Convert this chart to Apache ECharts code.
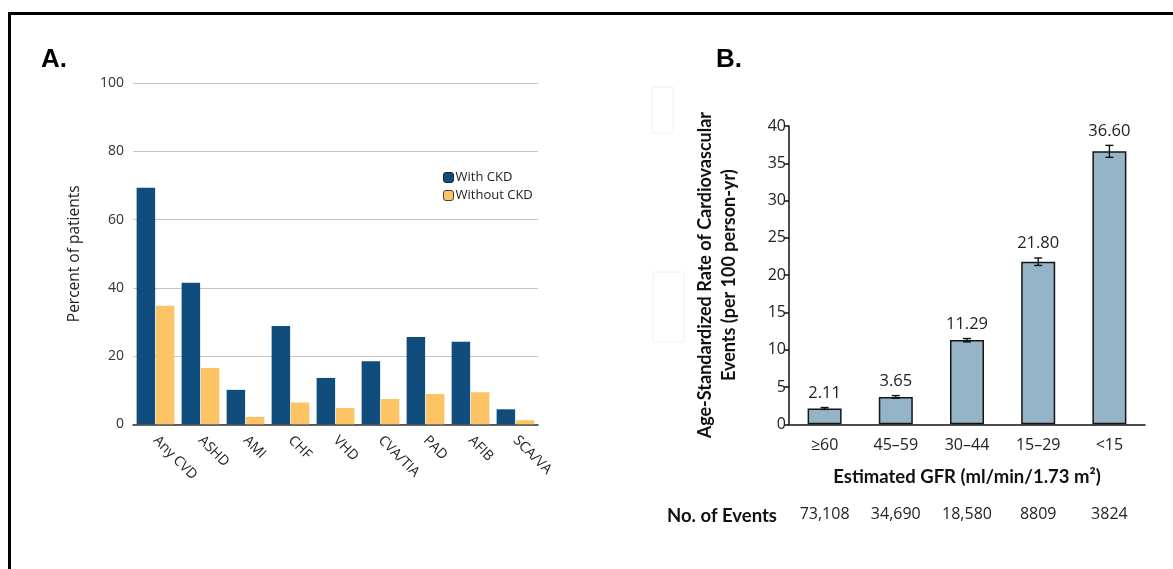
<!DOCTYPE html>
<html>
<head>
<meta charset="utf-8">
<script src="https://cdn.jsdelivr.net/npm/echarts@6/dist/echarts.min.js"></script>
<style>
html,body{margin:0;padding:0;background:#fff;}
#chart{width:1173px;height:569px;}
</style>
</head>
<body>
<div id="chart"></div>
<script>
// Panel A data
var cvdCategories = ['Any CVD','ASHD','AMI','CHF','VHD','CVA/TIA','PAD','AFIB','SCA/VA'];
var withCKD = [69.4, 41.5, 10.1, 28.8, 13.6, 18.5, 25.6, 24.2, 4.4];
var withoutCKD = [34.8, 16.5, 2.2, 6.4, 4.8, 7.4, 8.9, 9.4, 1.2];

// Panel B data
var gfrCategories = ['\u226560', '45\u201359', '30\u201344', '15\u201329', '<15'];
var eventRates = [2.11, 3.65, 11.29, 21.80, 36.60];
var errLow = [2.00, 3.50, 11.05, 21.30, 35.80];
var errHigh = [2.25, 3.85, 11.50, 22.30, 37.40];
var eventCounts = ['73,108', '34,690', '18,580', '8809', '3824'];

var chart = echarts.init(document.getElementById('chart'), null, {renderer: 'canvas'});

var errData = eventRates.map(function (v, i) { return [i, errLow[i], errHigh[i], v]; });

var option = {
  backgroundColor: '#ffffff',
  animation: false,
  title: [
    {text: 'A.', left: 36, top: 42, textStyle: {fontFamily: 'Liberation Sans', fontWeight: 'bold', fontSize: 26, color: '#000'}},
    {text: 'B.', left: 711, top: 42, textStyle: {fontFamily: 'Liberation Sans', fontWeight: 'bold', fontSize: 26, color: '#000'}}
  ],
  legend: {
    orient: 'vertical',
    left: 438,
    top: 166,
    itemWidth: 10,
    itemHeight: 10,
    itemGap: 5,
    textStyle: {fontFamily: 'Open Sans', fontSize: 13, color: '#222', padding: [0, 0, 0, -3]},
    data: [
      {name: 'With CKD', itemStyle: {borderColor: '#222', borderWidth: 1}},
      {name: 'Without CKD', itemStyle: {borderColor: '#444', borderWidth: 1}}
    ]
  },
  grid: [
    {left: 133, top: 83.3, width: 405, height: 341},
    {left: 789, top: 126, width: 356, height: 298.3}
  ],
  xAxis: [
    {
      type: 'category', gridIndex: 0, data: cvdCategories,
      axisLine: {lineStyle: {color: '#333', width: 1.5}},
      axisTick: {show: false},
      axisLabel: {rotate: -45, margin: 14, fontFamily: 'Open Sans', fontSize: 14, color: '#222', interval: 0}
    },
    {
      type: 'category', gridIndex: 1, data: gfrCategories,
      axisLine: {lineStyle: {color: '#111', width: 1.5}},
      axisTick: {alignWithLabel: true, length: 6, lineStyle: {color: '#111', width: 1.5}},
      axisLabel: {margin: 13, fontFamily: 'Open Sans', fontSize: 16, color: '#222'},
      name: 'Estimated GFR (ml/min/1.73 m\u00b2)',
      nameLocation: 'middle', nameGap: 43,
      nameTextStyle: {fontFamily: 'Lato', fontWeight: 'bold', fontSize: 18.5, color: '#111'}
    },
    {
      type: 'category', gridIndex: 1, data: eventCounts, position: 'bottom', offset: 92,
      axisLine: {show: false}, axisTick: {show: false},
      axisLabel: {margin: -10, fontFamily: 'Open Sans', fontSize: 16, color: '#222'},
      name: 'No. of Events', nameLocation: 'start', nameGap: 12,
      nameTextStyle: {fontFamily: 'Lato', fontWeight: 'bold', fontSize: 18.5, color: '#111'}
    }
  ],
  yAxis: [
    {
      type: 'value', gridIndex: 0, min: 0, max: 100, interval: 20,
      axisLine: {show: false}, axisTick: {show: false},
      splitLine: {lineStyle: {color: '#c4c4c4', width: 1.2}},
      axisLabel: {margin: 9, fontFamily: 'Open Sans', fontSize: 14, color: '#333'},
      name: 'Percent of patients', nameLocation: 'middle', nameGap: 50,
      nameTextStyle: {fontFamily: 'Open Sans', fontSize: 15.5, color: '#222'}
    },
    {
      type: 'value', gridIndex: 1, min: 0, max: 40, interval: 5,
      axisLine: {show: true, lineStyle: {color: '#111', width: 1.5}},
      axisTick: {show: true, length: 5, lineStyle: {color: '#111', width: 1.5}},
      splitLine: {show: false},
      axisLabel: {margin: 3, fontFamily: 'Open Sans', fontSize: 16, color: '#222'},
      name: 'Age-Standardized Rate of Cardiovascular\nEvents (per 100 person-yr)',
      nameLocation: 'middle', nameGap: 48,
      nameTextStyle: {fontFamily: 'Lato', fontWeight: 'bold', fontSize: 18, color: '#111', lineHeight: 24}
    }
  ],
  series: [
    {
      name: 'With CKD', type: 'bar', xAxisIndex: 0, yAxisIndex: 0, data: withCKD,
      barWidth: 18.5, barGap: '4%',
      itemStyle: {color: '#114d7c'}
    },
    {
      name: 'Without CKD', type: 'bar', xAxisIndex: 0, yAxisIndex: 0, data: withoutCKD,
      barWidth: 18.5, barGap: '4%',
      itemStyle: {color: '#fcc465'}
    },
    {
      name: 'Rate', type: 'bar', xAxisIndex: 1, yAxisIndex: 1, data: eventRates,
      barWidth: 34,
      itemStyle: {color: '#96b4c8', borderColor: '#151515', borderWidth: 1.5}
    },
    {
      name: 'Err', type: 'custom', xAxisIndex: 1, yAxisIndex: 1, data: errData,
      z: 5,
      renderItem: function (params, api) {
        var x = api.value(0);
        var lo = api.coord([x, api.value(1)]);
        var hi = api.coord([x, api.value(2)]);
        var hw = 4;
        var val = api.value(3);
        return {
          type: 'group',
          children: [
            {type: 'line', shape: {x1: lo[0], y1: lo[1], x2: hi[0], y2: hi[1]}, style: {stroke: '#111', lineWidth: 1.4}},
            {type: 'line', shape: {x1: hi[0] - hw, y1: hi[1], x2: hi[0] + hw, y2: hi[1]}, style: {stroke: '#111', lineWidth: 1.4}},
            {type: 'line', shape: {x1: lo[0] - hw, y1: lo[1], x2: lo[0] + hw, y2: lo[1]}, style: {stroke: '#111', lineWidth: 1.4}},
            {type: 'text', x: hi[0], y: hi[1] - 6, style: {text: val.toFixed(2), textAlign: 'center', textVerticalAlign: 'bottom', fontFamily: 'Open Sans', fontSize: 16.5, fill: '#222'}}
          ]
        };
      }
    }
  ],
  graphic: [
    {type: 'line', shape: {x1: 8, y1: 13.5, x2: 1173, y2: 13.5}, style: {stroke: '#000', lineWidth: 3}},
    {type: 'line', shape: {x1: 9.5, y1: 12, x2: 9.5, y2: 569}, style: {stroke: '#000', lineWidth: 3}},
    {type: 'rect', shape: {x: 652, y: 87, width: 21, height: 46}, style: {fill: 'none', stroke: '#f0f0f0', lineWidth: 1}},
    {type: 'rect', shape: {x: 653, y: 272, width: 31, height: 70}, style: {fill: 'none', stroke: '#f0f0f0', lineWidth: 1}}
  ]
};
chart.setOption(option);
</script>
</body>
</html>
